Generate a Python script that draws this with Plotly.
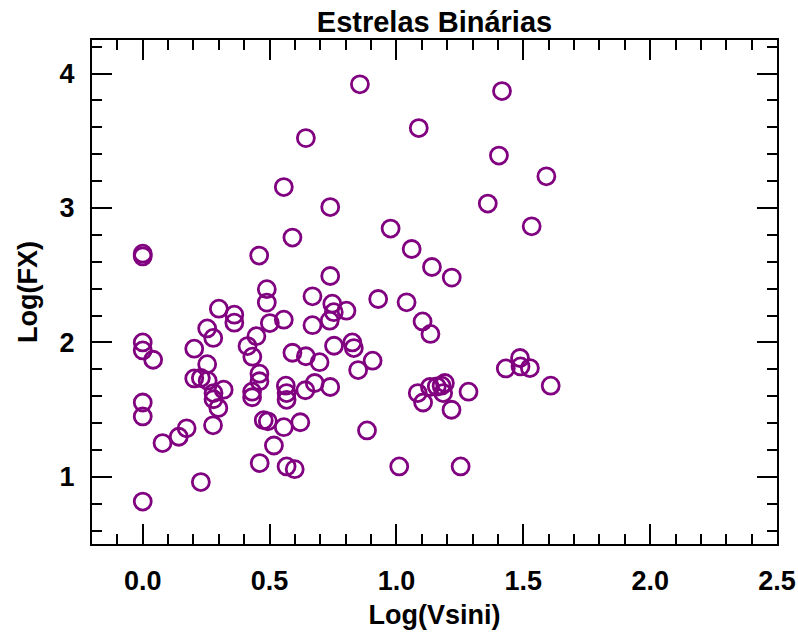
import plotly.graph_objects as go

# Log(Vsini) values
log_vsini = [
    0.856, 1.416, 1.088, 0.643, 1.404, 1.591, 0.556, 1.360, 0.739, 1.533,
    0.977, 0.590, 1.060, 0.000, 0.000, 0.459, 1.140, 0.739, 1.218, 0.489,
    0.669, 0.489, 0.928, 1.040, 0.300, 0.747, 0.753, 0.803, 0.361, 0.737,
    0.361, 1.103, 0.556, 0.501, 0.669, 0.254, 0.278, 1.134, 0.448, 0.000,
    0.000, 0.413, 0.203, 0.826, 0.832, 0.754, 0.590, 0.643, 0.432, 0.041,
    0.906, 0.697, 0.254, 1.487, 0.849, 1.431, 1.489, 1.526, 0.460, 0.203,
    0.229, 0.256, 0.460, 0.678, 0.564, 0.567, 1.132, 1.159, 1.191, 1.184,
    1.178, 0.319, 1.608, 0.739, 0.641, 1.084, 1.284, 0.431, 0.279, 0.431,
    0.279, 0.567, 1.105, 0.000, 0.298, 1.217, 0.000, 0.477, 0.493, 0.621,
    0.277, 0.556, 0.884, 0.173, 0.142, 0.078, 0.517, 0.461, 0.567, 0.599,
    1.011, 1.253, 0.229, 0.000,
]

# Log(FX) values
log_fx = [
    3.920, 3.870, 3.595, 3.520, 3.390, 3.236, 3.156, 3.033, 3.007, 2.864,
    2.847, 2.780, 2.695, 2.660, 2.640, 2.646, 2.561, 2.494, 2.482, 2.396,
    2.343, 2.296, 2.323, 2.298, 2.251, 2.288, 2.225, 2.236, 2.206, 2.162,
    2.147, 2.156, 2.169, 2.144, 2.128, 2.104, 2.033, 2.063, 2.046, 2.000,
    1.940, 1.973, 1.953, 2.000, 1.958, 1.975, 1.923, 1.897, 1.894, 1.871,
    1.864, 1.853, 1.838, 1.884, 1.794, 1.806, 1.821, 1.809, 1.767, 1.732,
    1.735, 1.715, 1.711, 1.698, 1.678, 1.623, 1.668, 1.672, 1.698, 1.623,
    1.678, 1.648, 1.678, 1.668, 1.644, 1.623, 1.633, 1.633, 1.623, 1.592,
    1.577, 1.573, 1.553, 1.553, 1.512, 1.499, 1.449, 1.421, 1.413, 1.406,
    1.383, 1.369, 1.345, 1.361, 1.298, 1.251, 1.233, 1.102, 1.077, 1.057,
    1.077, 1.077, 0.961, 0.816,
]

x_ticks = [0.0, 0.5, 1.0, 1.5, 2.0, 2.5]
x_tick_labels = ["0.0", "0.5", "1.0", "1.5", "2.0", "2.5"]
y_ticks = [1, 2, 3, 4]
y_tick_labels = ["1", "2", "3", "4"]

FONT = "Liberation Sans"
PURPLE = "#800080"

fig = go.Figure()
fig.add_trace(go.Scatter(
    x=log_vsini, y=log_fx, mode="markers",
    marker=dict(symbol="circle-open", size=17, color=PURPLE,
                line=dict(width=2.8, color=PURPLE)),
    showlegend=False,
))

axis_common = dict(
    showline=True, linecolor="black", linewidth=2, mirror="ticks",
    ticks="inside", ticklen=20, tickwidth=2, tickcolor="black",
    showgrid=False, zeroline=False, automargin=False,
    tickfont=dict(family=FONT, size=27, color="black", weight="bold"),
)

fig.update_layout(
    width=798, height=635,
    margin=dict(l=92, r=21, t=40, b=91, autoexpand=False),
    paper_bgcolor="white", plot_bgcolor="white",
    title=dict(text="Estrelas Binárias", x=(92 + 777) / 2 / 798, xanchor="center",
               y=1 - 22 / 635, yanchor="middle",
               font=dict(family=FONT, size=29, color="black", weight="bold")),
    xaxis=dict(
        range=[-0.2, 2.5], tickvals=x_ticks, ticktext=x_tick_labels,
        minor=dict(ticks="inside", ticklen=10, tickwidth=2, tickcolor="black", dtick=0.1),
        title=dict(text="Log(Vsini)", standoff=10,
                   font=dict(family=FONT, size=27, color="black", weight="bold")),
        ticklabelstandoff=12,
        **axis_common,
    ),
    yaxis=dict(
        range=[0.5, 4.25], tickvals=y_ticks, ticktext=y_tick_labels,
        minor=dict(ticks="inside", ticklen=10, tickwidth=2, tickcolor="black", dtick=0.2, tick0=0),
        title=dict(text="Log(FX)", standoff=14,
                   font=dict(family=FONT, size=27, color="black", weight="bold")),
        ticklabelstandoff=10,
        **axis_common,
    ),
)

fig.write_html("out.html")
